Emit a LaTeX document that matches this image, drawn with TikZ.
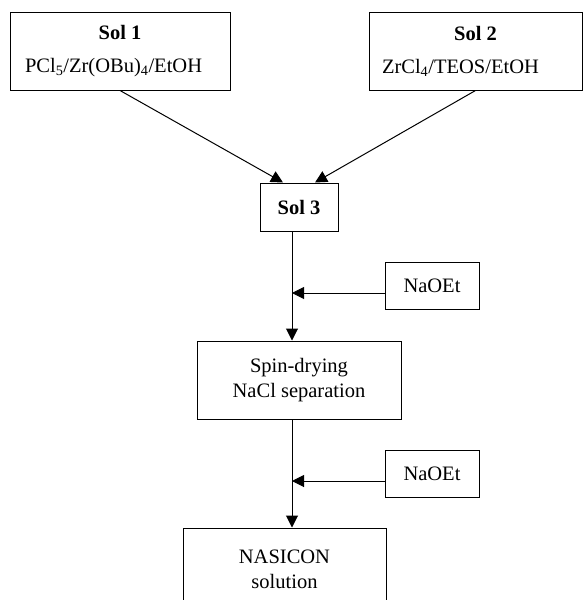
\documentclass[tikz,border=0pt]{standalone}
\usepackage{fontspec}
\setmainfont{Liberation Serif}
\usetikzlibrary{arrows.meta}

\begin{document}
\begin{tikzpicture}[x=1pt,y=-1pt,line width=1pt,
  box/.style={draw,align=center,inner sep=0pt,font=\fontsize{20.5}{25}\selectfont},
  flow/.style={-{Triangle[length=12pt,width=12pt]}}]
  \useasboundingbox (0,0) rectangle (584,600);
  % solutions
  \node[box,minimum width=220pt,minimum height=78pt] (sol1) at (120,51) {\textbf{Sol 1}\\[8pt]\makebox[190pt][l]{PCl\textsubscript{5}/Zr(OBu)\textsubscript{4}/EtOH}};
  \node[box,minimum width=213pt,minimum height=78pt] (sol2) at (475.5,51) {\textbf{Sol 2}\\[8pt]\makebox[187pt][l]{ZrCl\textsubscript{4}/TEOS/EtOH}};
  \node[box,minimum width=78pt,minimum height=48pt] (sol3) at (299,207) {\textbf{Sol 3}};
  \node[box,minimum width=204pt,minimum height=78pt] (spin) at (299,380) {Spin-drying\\NaCl separation};
  \node[box,minimum width=203pt,minimum height=82pt] (nasicon) at (284.5,569) {NASICON\\solution};
  \node[box,minimum width=94pt,minimum height=47pt] (naoet1) at (432,285.5) {NaOEt};
  \node[box,minimum width=94pt,minimum height=47pt] (naoet2) at (432,473.5) {NaOEt};
  \coordinate (axis) at (292,0);
  % connectors
  \draw[flow] (sol1.south) -- ([xshift=-16pt]sol3.north);
  \draw[flow] (sol2.south) -- ([xshift=16pt]sol3.north);
  \draw[flow] (sol3.south -| axis) -- (spin.north -| axis);
  \draw[flow] (spin.south -| axis) -- (nasicon.north -| axis);
  \draw[flow] ([yshift=-7.5pt]naoet1.west) -- ([yshift=-7.5pt]naoet1.west -| axis);
  \draw[flow] ([yshift=-7.5pt]naoet2.west) -- ([yshift=-7.5pt]naoet2.west -| axis);
\end{tikzpicture}
\end{document}
